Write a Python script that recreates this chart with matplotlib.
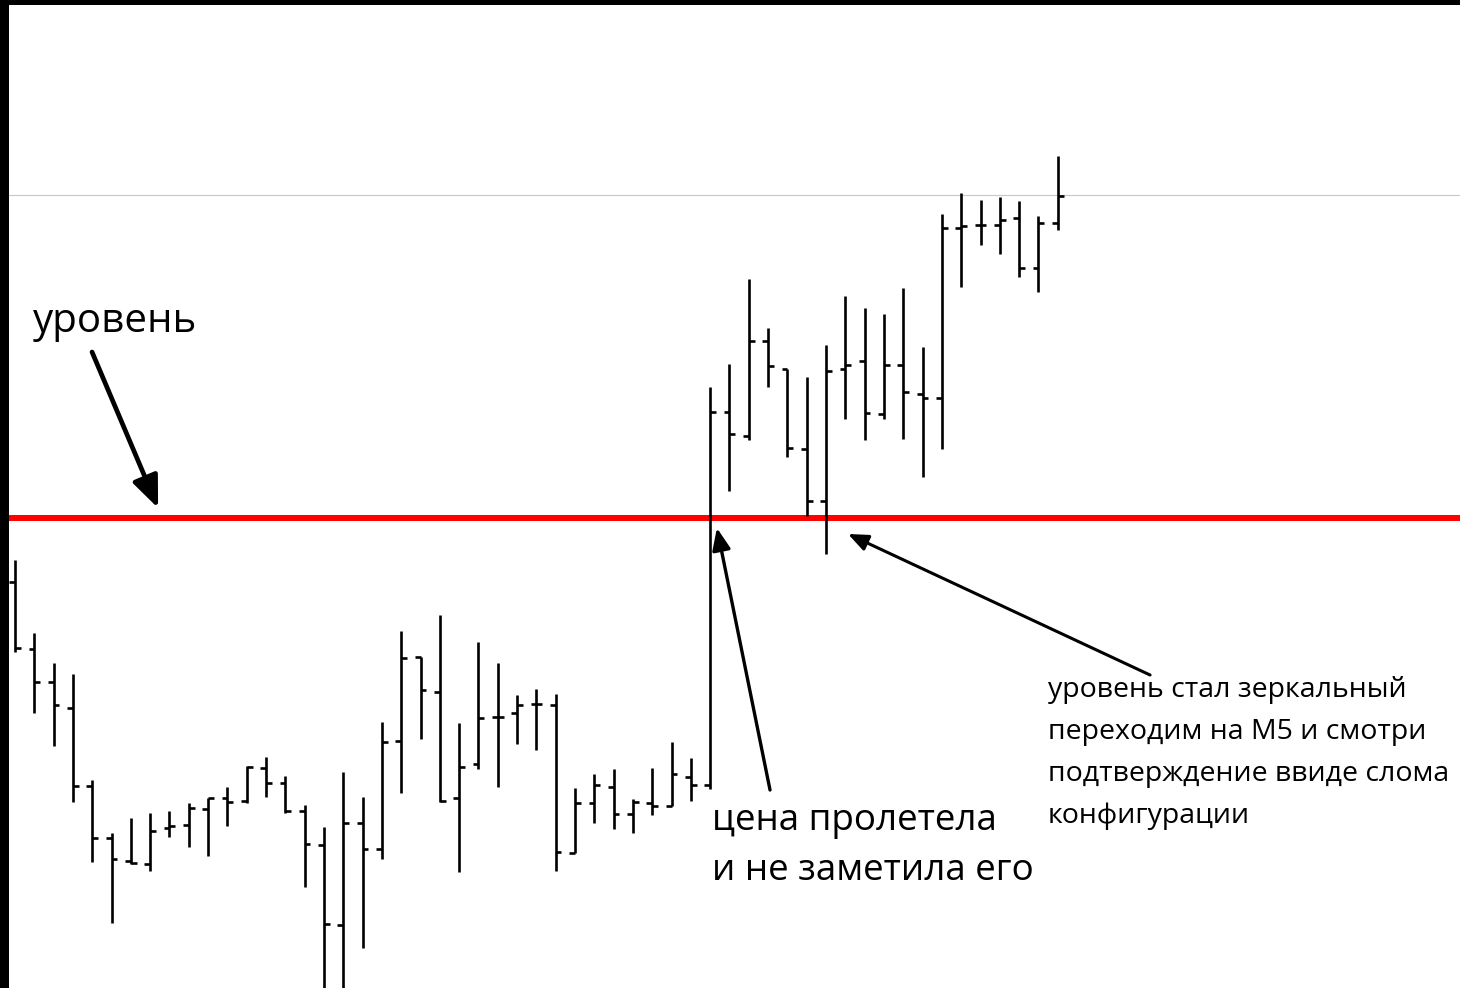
import matplotlib
matplotlib.use('Agg')
import matplotlib.pyplot as plt

plt.rcParams['font.family'] = ['Open Sans', 'DejaVu Sans']

# OHLC бары (условные пункты)
opens = [406, 339, 306, 280, 202, 150, 127, 124, 160, 163, 179, 190, 187, 220, 205,
         177, 143, 63, 165, 139, 247, 331, 296, 190, 224, 271, 275, 284, 283, 135,
         185, 201, 174, 185, 182, 211, 203, 576, 552, 647, 619, 539, 487, 619, 627,
         574, 623, 594, 590, 760, 763, 763, 770, 720, 765]
highs = [428, 355, 325, 314, 208, 155, 170, 175, 177, 185, 190, 201, 222, 231, 212,
         183, 161, 216, 191, 266, 357, 331, 373, 265, 346, 325, 293, 299, 294, 200,
         214, 219, 189, 220, 246, 230, 601, 624, 709, 660, 619, 611, 643, 692, 680,
         674, 700, 641, 774, 795, 788, 791, 787, 772, 832]
lows = [336, 275, 242, 186, 126, 65, 124, 117, 151, 141, 132, 162, 185, 191, 175,
        101, -10, -10, 40, 129, 195, 249, 186, 116, 219, 201, 244, 238, 117, 135,
        165, 159, 155, 173, 182, 187, 199, 497, 548, 601, 531, 472, 434, 569, 548,
        569, 549, 511, 539, 701, 743, 734, 711, 696, 758]
closes = [340, 306, 283, 202, 150, 129, 125, 157, 162, 180, 190, 186, 221, 205, 177,
          144, 64, 165, 139, 246, 330, 298, 187, 221, 270, 271, 283, 284, 136, 185,
          203, 174, 186, 182, 214, 203, 576, 554, 647, 622, 540, 487, 617, 623, 575,
          623, 596, 590, 760, 762, 763, 768, 720, 765, 792]

level = 470      # красный уровень
top_line = 793   # серая линия сверху

x = list(range(len(opens)))
tick = 0.3

fig = plt.figure(figsize=(14.6, 9.88), dpi=100, facecolor='black')
ax = fig.add_axes([9 / 1460, 0, 1451 / 1460, 983 / 988])
ax.set_facecolor('white')
ax.set_xlim(-0.31, 74.83)
ax.set_ylim(0, 983)
ax.set_xticks([])
ax.set_yticks([])
for s in ax.spines.values():
    s.set_visible(False)

ax.axhline(top_line, color='#c8c8c8', lw=0.8, zorder=1)
ax.axhline(level, color='#ff0000', lw=4.3, zorder=2)

ax.vlines(x, lows, highs, color='black', lw=1.9, zorder=3)
ax.hlines(opens, [i - tick for i in x], x, color='black', lw=1.9, zorder=3)
ax.hlines(closes, x, [i + tick for i in x], color='black', lw=1.9, zorder=3)

# Подписи
ax.text(0.93, 656, 'уровень', fontsize=29, va='baseline', ha='left')
ax.annotate('', xy=(7.41, 480), xytext=(3.99, 636),
            arrowprops=dict(arrowstyle='-|>,head_length=0.6,head_width=0.25',
                            lw=3.4, color='black', mutation_scale=32,
                            shrinkA=0, shrinkB=0))

ax.text(36.1, 158, 'цена пролетела', fontsize=26.5, va='baseline', ha='left')
ax.text(36.1, 108, 'и не заметила его', fontsize=26.5, va='baseline', ha='left')
ax.annotate('', xy=(36.35, 460), xytext=(39.1, 198),
            arrowprops=dict(arrowstyle='-|>,head_length=0.6,head_width=0.25',
                            lw=2.4, color='black', mutation_scale=22,
                            shrinkA=0, shrinkB=0))

right_lines = ['уровень стал зеркальный', 'переходим на М5 и смотри',
               'подтверждение ввиде слома', 'конфигурации']
for k, line in enumerate(right_lines):
    ax.text(53.5, 291 - k * 42, line, fontsize=20.5, va='baseline', ha='left')
ax.annotate('', xy=(43.14, 454), xytext=(58.78, 313),
            arrowprops=dict(arrowstyle='-|>,head_length=0.6,head_width=0.25',
                            lw=2.2, color='black', mutation_scale=20,
                            shrinkA=0, shrinkB=0))

fig.savefig('out.png', dpi=100, facecolor='black')
